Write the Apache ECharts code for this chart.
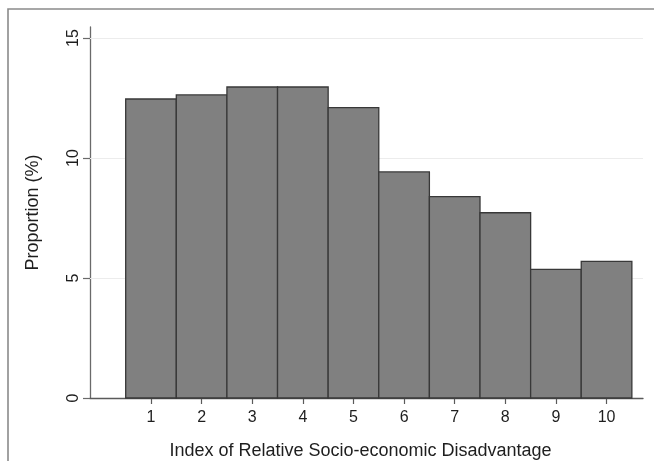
<!DOCTYPE html>
<html>
<head>
<meta charset="utf-8">
<script src="https://cdn.jsdelivr.net/npm/echarts@6/dist/echarts.min.js"></script>
<style>
html,body{margin:0;padding:0;background:#fff;}
#chart{width:654px;height:461px;}
</style>
</head>
<body>
<div id="chart"></div>
<script>
// Data
var categories = [1, 2, 3, 4, 5, 6, 7, 8, 9, 10];
var proportions = [12.46, 12.63, 12.96, 12.96, 12.10, 9.42, 8.39, 7.72, 5.36, 5.69];
var yTicks = [0, 5, 10, 15];
var gridValues = [5, 10, 15];
var xTitle = 'Index of Relative Socio-economic Disadvantage';
var yTitle = 'Proportion (%)';

var barData = categories.map(function (c, i) { return [c, proportions[i]]; });

var chart = echarts.init(document.getElementById('chart'), null, {renderer: 'canvas'});
var font = 'Liberation Sans, Arial, sans-serif';
var txt = '#1e1e1e';

chart.setOption({
  animation: false,
  backgroundColor: '#ffffff',
  graphic: [{
    type: 'rect',
    shape: {x: 8, y: 9, width: 700, height: 500},
    style: {fill: 'none', stroke: '#8a8a8a', lineWidth: 1.6},
    silent: true,
    z: -10
  }],
  grid: {left: 90, right: 11, top: 27, bottom: 63, containLabel: false, outerBoundsMode: 'none'},
  xAxis: {
    type: 'value',
    min: -0.205,
    max: 10.72,
    name: xTitle,
    nameLocation: 'middle',
    nameGap: 44,
    nameTextStyle: {fontFamily: font, fontSize: 18, color: txt, padding: [0, 12, 0, 0]},
    axisLine: {show: true, onZero: false, lineStyle: {color: '#5a5a5a', width: 1.3}},
    axisTick: {show: true, length: 6, customValues: categories, lineStyle: {color: '#5a5a5a', width: 1.2}},
    axisLabel: {customValues: categories, margin: 12, fontFamily: font, fontSize: 16, color: txt},
    splitLine: {show: false}
  },
  yAxis: {
    type: 'value',
    min: 0,
    max: 15.46,
    name: yTitle,
    nameLocation: 'middle',
    nameGap: 48,
    nameRotate: 90,
    nameTextStyle: {fontFamily: font, fontSize: 18, color: txt},
    axisLine: {show: true, onZero: false, lineStyle: {color: '#6a6a6a', width: 1.3}},
    axisTick: {show: true, length: 7, customValues: yTicks, lineStyle: {color: '#6a6a6a', width: 1.2}},
    axisLabel: {customValues: yTicks, rotate: 90, margin: 8, fontFamily: font, fontSize: 16, color: txt},
    splitLine: {show: false}
  },
  series: [{
    type: 'line',
    data: [],
    silent: true,
    markLine: {
      silent: true,
      symbol: ['none', 'none'],
      label: {show: false},
      lineStyle: {color: '#ececec', width: 1.2, type: 'solid'},
      data: gridValues.map(function (v) { return {yAxis: v}; })
    },
    z: 0
  }, {
    type: 'custom',
    data: barData,
    z: 5,
    renderItem: function (params, api) {
      var x = api.value(0), y = api.value(1);
      var p0 = api.coord([x - 0.5, y]);
      var p1 = api.coord([x + 0.5, 0]);
      return {
        type: 'rect',
        shape: {x: p0[0], y: p0[1], width: p1[0] - p0[0], height: p1[1] - p0[1]},
        style: {fill: '#808080', stroke: '#383838', lineWidth: 1.3}
      };
    }
  }]
});
</script>
</body>
</html>
